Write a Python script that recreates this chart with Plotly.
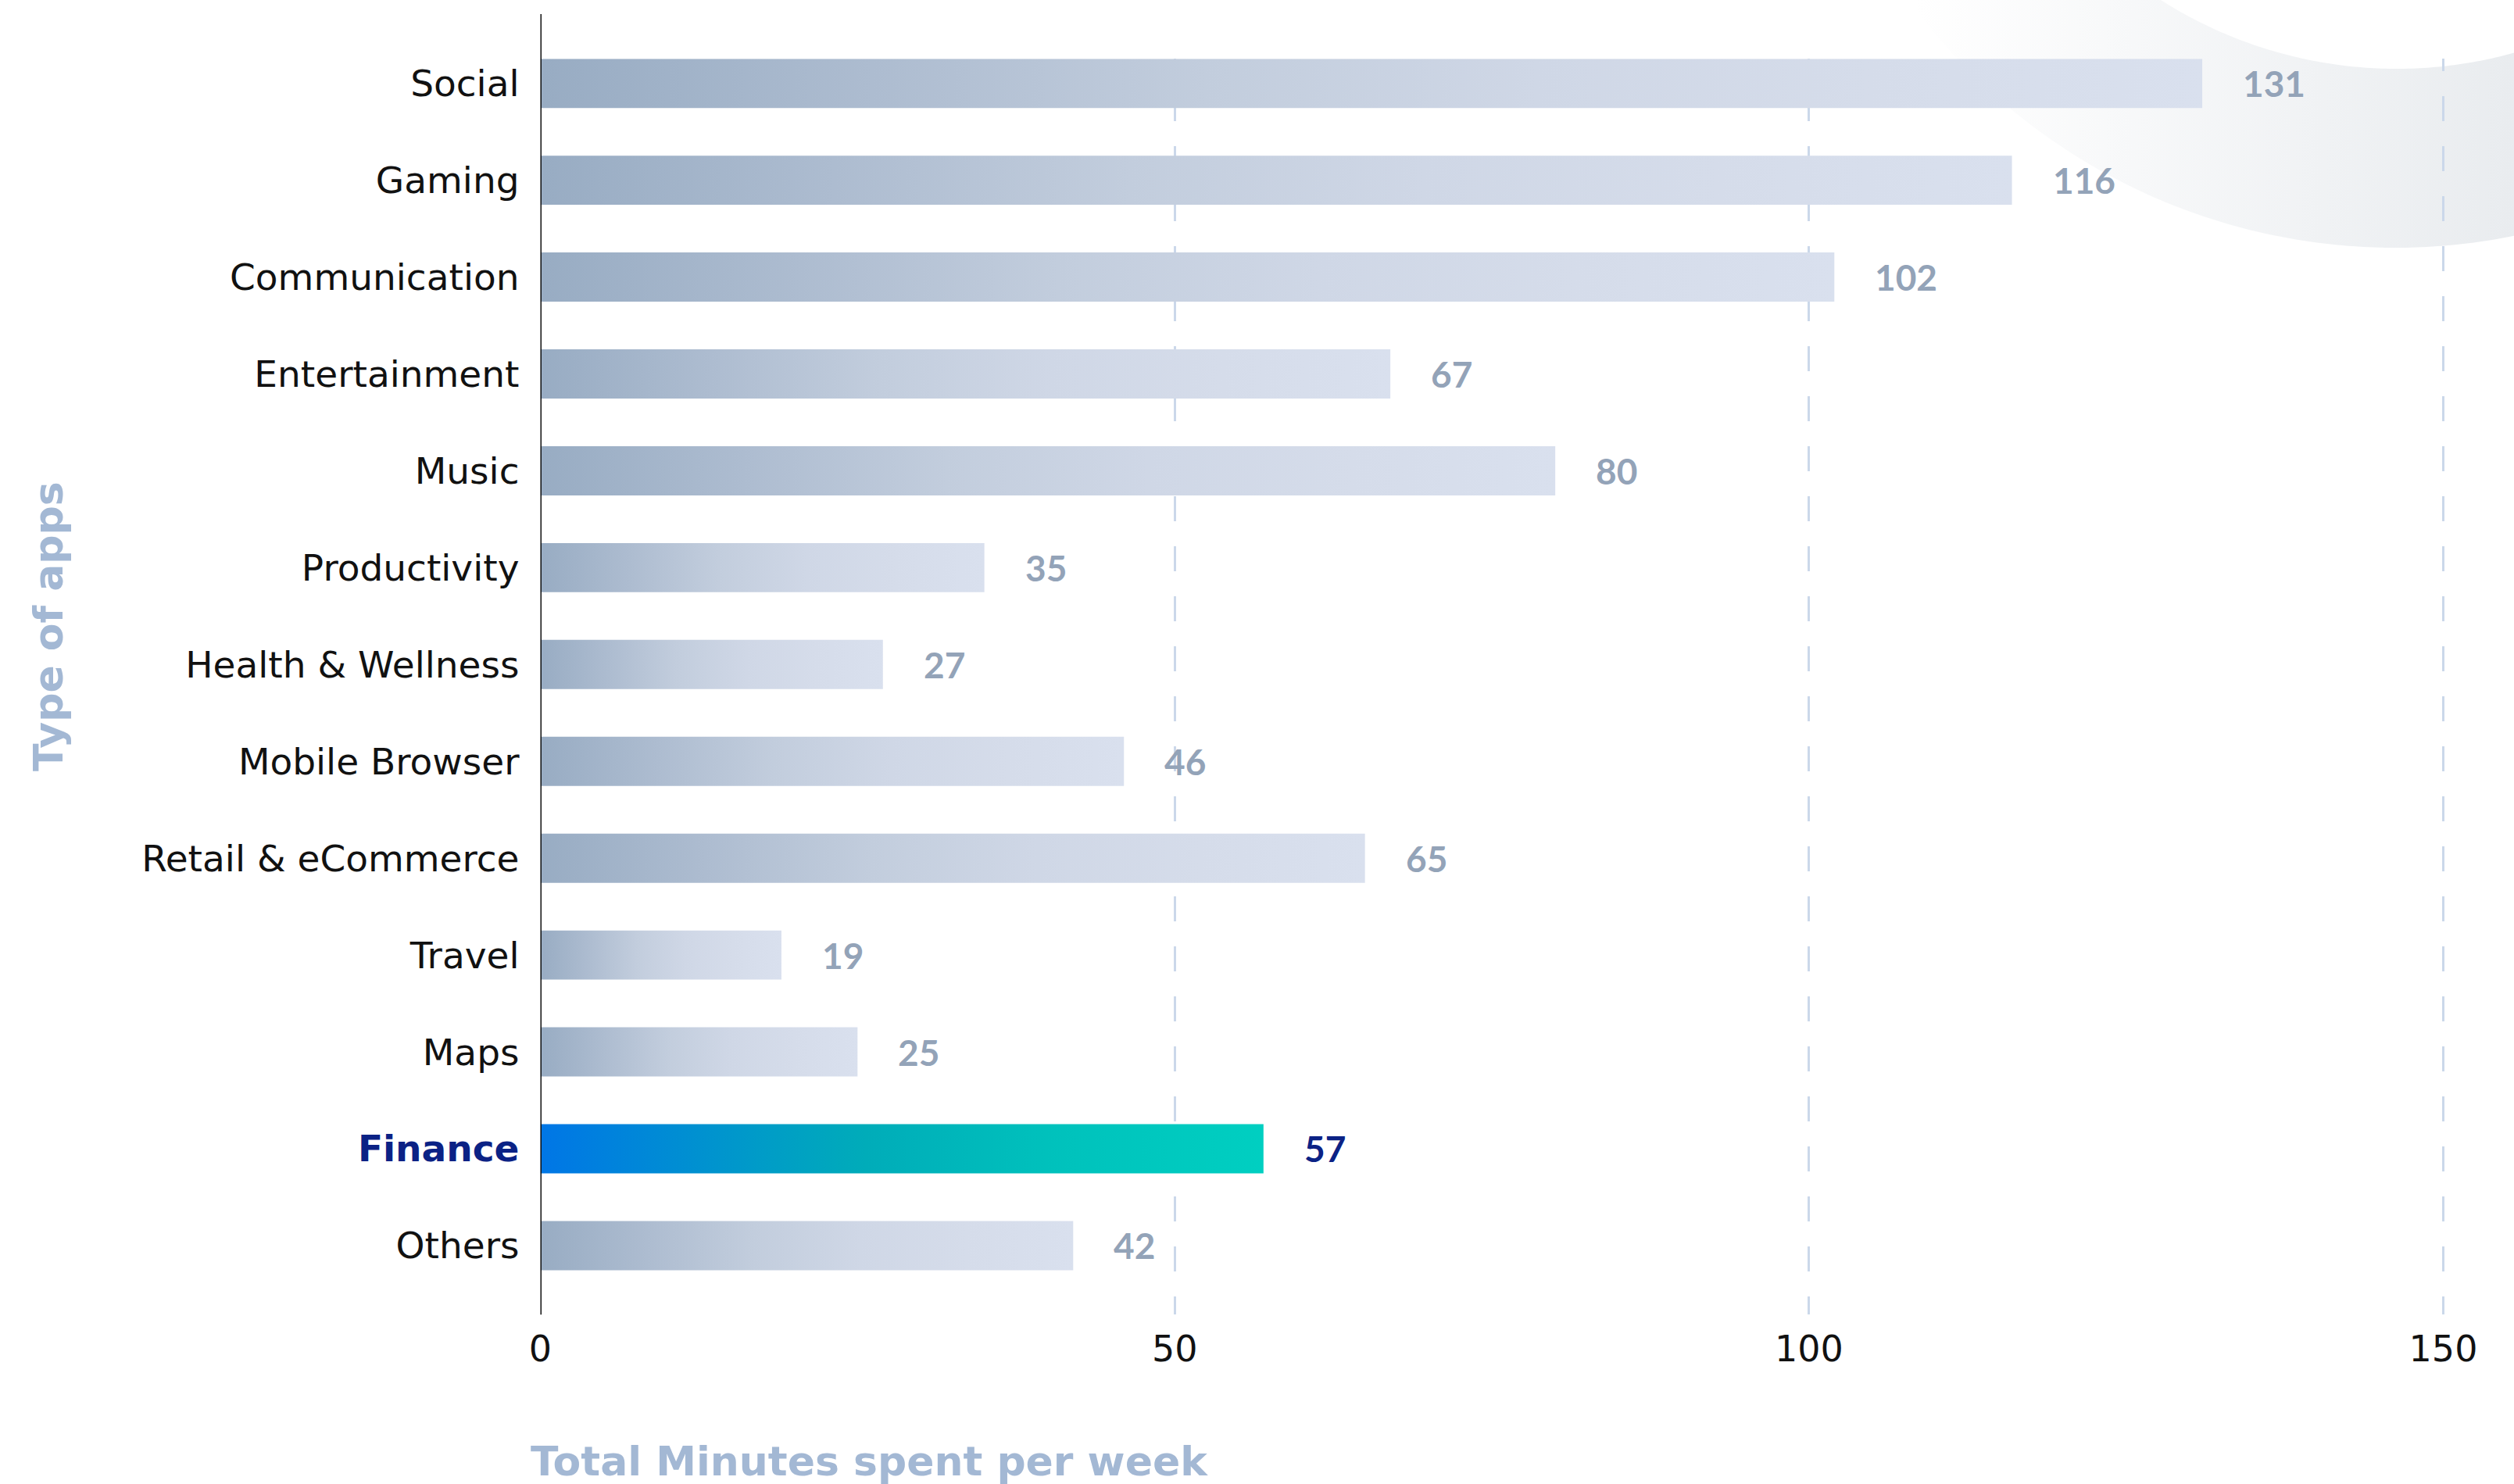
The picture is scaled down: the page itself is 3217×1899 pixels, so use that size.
import numpy as np
import plotly.graph_objects as go

# ---- data -------------------------------------------------------------
categories = ["Social", "Gaming", "Communication", "Entertainment", "Music",
              "Productivity", "Health & Wellness", "Mobile Browser",
              "Retail & eCommerce", "Travel", "Maps", "Finance", "Others"]
minutes = [131, 116, 102, 67, 80, 35, 27, 46, 65, 19, 25, 57, 42]
highlight = "Finance"
x_ticks = [0, 50, 100, 150]
x_title = "Total Minutes spent per week"
y_title = "Type of apps"

# ---- styling ----------------------------------------------------------
W, H = 3217, 1899
BAR_SCALE = [[0, "#98acc3"], [0.2, "#adbcd0"], [0.4, "#c2cddd"],
             [0.6, "#cfd7e6"], [0.8, "#d5dcea"], [1, "#d9e0ee"]]
HL_SCALE = [[0, "#0076e6"], [0.3, "#009bc8"], [0.45, "#00acb9"],
            [0.7, "#00c1bc"], [1, "#00cfc1"]]
NAVY = "#0b2285"
VALUE_GREY = "#93a3b8"
TITLE_BLUE = "#a3b8d4"
GRID = "#cbd8ea"
LABEL_FONT = "DejaVu Sans"
VALUE_FONT = "Lato"

# plot area in pixels
PX_LEFT, PX_RIGHT = 691.5, 3207.0
PX_TOP, PX_BOTTOM = 75.2, 1682.3
PX_150 = 3126.5          # where the last grid line sits
AXIS_TOP = 18.0
HALF_BAR = 0.254
Y_BOTTOM = 12.713        # category units below the first bar centre

# dashed grid: half dash first, then 32/32 pattern
GRID_DASH = "16px,32px," + ",".join(["32px"] * 60)

fig = go.Figure()

# ---- decorative crescent in the top-right corner (pixel space) -------
t = np.linspace(0, 2 * np.pi, 721)
ocx, ocy, orad = 3065, -453, 770
icx, icy, irad = 3067, -474, 562
cres_x = np.concatenate([ocx + orad * np.sin(t), icx + irad * np.sin(t[::-1])])
cres_y = np.concatenate([ocy - orad * np.cos(t), icy - irad * np.cos(t[::-1])])
fig.add_trace(go.Scatter(
    x=cres_x, y=cres_y, xaxis="x", yaxis="y",
    mode="none", fill="toself", hoverinfo="skip",
    fillgradient=dict(type="horizontal", start=2450, stop=3217,
                      colorscale=[[0, "#ffffff"], [1, "#e9ecef"]]),
))

# ---- bars with horizontal gradients ------------------------------------
for i, (cat, val) in enumerate(zip(categories, minutes)):
    scale = HL_SCALE if cat == highlight else BAR_SCALE
    fig.add_trace(go.Scatter(
        x=[0, val, val, 0, 0],
        y=[i - HALF_BAR, i - HALF_BAR, i + HALF_BAR, i + HALF_BAR, i - HALF_BAR],
        xaxis="x2", yaxis="y2",
        mode="none", fill="toself", hoverinfo="skip",
        fillgradient=dict(type="horizontal", colorscale=scale),
    ))
    fig.add_annotation(
        x=val, y=i, xref="x2", yref="y2", text=str(val),
        xanchor="left", yanchor="middle", xshift=50, showarrow=False,
        font=dict(family=VALUE_FONT, size=46, weight=700,
                  color=NAVY if cat == highlight else VALUE_GREY),
    )

tick_text = [f"<span style='color:{NAVY}'><b>{c}</b></span>" if c == highlight else c
             for c in categories]

# ---- axis titles -------------------------------------------------------
fig.add_annotation(
    x=677 / W, y=1 - 1870 / H, xref="paper", yref="paper", text=x_title,
    xanchor="left", yanchor="middle", showarrow=False,
    font=dict(family=LABEL_FONT, size=52, weight=700, color=TITLE_BLUE),
)
fig.add_annotation(
    x=62 / W, y=1 - 802 / H, xref="paper", yref="paper", text=y_title,
    textangle=-90, xanchor="center", yanchor="middle", showarrow=False,
    font=dict(family=LABEL_FONT, size=52, weight=700, color=TITLE_BLUE),
)

# vertical category axis line (runs a little above the bars)
fig.add_shape(
    type="line", xref="x2", yref="paper", x0=0, x1=0,
    y0=1 - PX_BOTTOM / H, y1=1 - AXIS_TOP / H,
    line=dict(color="#111111", width=3), layer="above",
)

x_max = x_ticks[-1] * (PX_RIGHT - PX_LEFT) / (PX_150 - PX_LEFT)

fig.update_layout(
    width=W, height=H,
    margin=dict(l=0, r=0, t=0, b=0, autoexpand=False),
    paper_bgcolor="white", plot_bgcolor="rgba(0,0,0,0)",
    showlegend=False,
    xaxis=dict(domain=[0, 1], range=[0, W], visible=False, fixedrange=True,
               automargin=False),
    yaxis=dict(domain=[0, 1], range=[H, 0], visible=False, fixedrange=True,
               automargin=False),
    xaxis2=dict(
        domain=[PX_LEFT / W, PX_RIGHT / W], anchor="y2", automargin=False,
        range=[0, x_max], tickmode="array", tickvals=x_ticks,
        showgrid=True, gridcolor=GRID, gridwidth=3, griddash=GRID_DASH,
        zeroline=False, showline=False, ticks="",
        ticklabelstandoff=13,
        tickfont=dict(family=LABEL_FONT, size=46, color="#111111"),
    ),
    yaxis2=dict(
        domain=[1 - PX_BOTTOM / H, 1 - PX_TOP / H], anchor="x2", automargin=False,
        range=[Y_BOTTOM, -HALF_BAR],
        tickmode="array", tickvals=list(range(len(categories))), ticktext=tick_text,
        showgrid=False, zeroline=False, showline=False, ticks="",
        ticklabelstandoff=26,
        tickfont=dict(family=LABEL_FONT, size=47, color="#111111"),
    ),
)

fig.write_html("out.html")
